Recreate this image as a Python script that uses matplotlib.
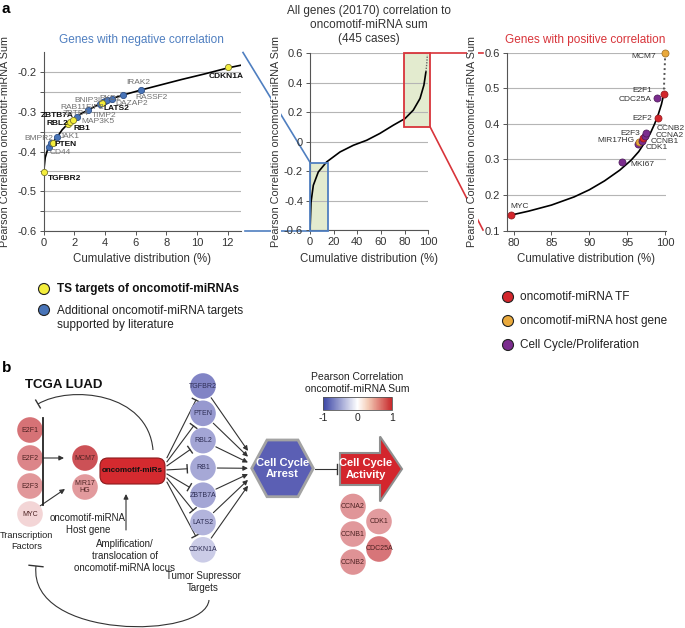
import numpy as np
import matplotlib
matplotlib.use('Agg')
import matplotlib.pyplot as plt
from matplotlib.patches import Circle, Rectangle, Polygon, FancyBboxPatch, PathPatch
from matplotlib.path import Path
from matplotlib.colors import LinearSegmentedColormap, Normalize
import matplotlib.colorbar as mcolorbar

plt.rcParams['font.family'] = ['Liberation Sans', 'DejaVu Sans']
plt.rcParams['axes.unicode_minus'] = False

W, H = 685, 628

# --------------------------- Data: panel a ---------------------------
# genes with negative correlation (left zoom)
neg_genes = ['TGFBR2', 'CD44', 'BMPR2', 'PTEN', 'JAK1', 'RBL2', 'ZBTB7A', 'RB1', 'MAP3K5', 'ZBTB4',
             'RAB11FIP2', 'LATS2', 'BNIP3L', 'TIMP2', 'DAZAP2', 'PKD2', 'RASSF2', 'IRAK2', 'CDKN1A']
neg_x = [0.0, 0.37, 0.50, 0.58, 0.89, 1.56, 1.72, 1.89, 2.19, 2.87,
         3.70, 3.78, 3.89, 4.00, 4.15, 4.43, 5.19, 6.35, 12.0]
neg_y = [-0.450, -0.387, -0.378, -0.377, -0.362, -0.329, -0.324, -0.320, -0.312, -0.295,
         -0.279, -0.277, -0.274, -0.272, -0.270, -0.267, -0.258, -0.245, -0.187]
neg_ts = ['TGFBR2', 'PTEN', 'RBL2', 'ZBTB7A', 'RB1', 'LATS2', 'CDKN1A']

neg_curve_x = [0.0, 0.1, 0.25, 0.4, 0.6, 0.9, 1.2, 1.6, 2.0, 2.5, 3.0, 3.6, 4.3, 5.2, 6.3, 7.5, 9.0, 10.5, 12.0, 13.0]
neg_curve_y = [-0.450, -0.415, -0.395, -0.386, -0.376, -0.362, -0.345, -0.329, -0.316, -0.303, -0.293,
               -0.281, -0.268, -0.257, -0.245, -0.233, -0.218, -0.204, -0.189, -0.181]

# all genes (middle)
all_curve_x = [0, 0.85, 2.8, 7, 14, 25.4, 36.6, 47.9, 59, 70.4, 80.3, 87.3, 93, 96.3, 98]
all_curve_y = [-0.6, -0.41, -0.294, -0.204, -0.136, -0.068, -0.023, 0.011, 0.057, 0.113, 0.158,
               0.215, 0.294, 0.385, 0.475]
all_tail_x = [98, 98.7, 99.2]
all_tail_y = [0.475, 0.53, 0.589]
neg_box = [0, -0.6, 15.5, -0.14]     # x0, y0, x1, y1
pos_box = [79.7, 0.1, 101.4, 0.6]

# genes with positive correlation (right zoom)
pos_genes = ['MYC', 'MKI67', 'CDK1', 'MIR17HG', 'CCNB1', 'E2F3', 'CCNA2', 'CCNB2', 'CDC25A', 'E2F2', 'E2F1', 'MCM7']
pos_x = [79.7, 94.3, 96.4, 96.6, 96.9, 97.1, 97.3, 97.5, 98.9, 99.1, 99.8, 100.0]
pos_y = [0.144, 0.292, 0.343, 0.348, 0.352, 0.360, 0.366, 0.374, 0.474, 0.416, 0.483, 0.600]
pos_type = ['TF', 'CC', 'CC', 'host', 'CC', 'TF', 'CC', 'CC', 'CC', 'TF', 'TF', 'host']

pos_curve_x = [79.7, 82, 85, 88, 90, 92, 94, 95.5, 96.5, 97.3, 98, 98.6, 99.1, 99.5, 99.8]
pos_curve_y = [0.144, 0.155, 0.172, 0.195, 0.215, 0.24, 0.27, 0.298, 0.322, 0.348, 0.372, 0.40, 0.428, 0.455, 0.483]

# --------------------------- Data: panel b ---------------------------
tf_nodes = ['E2F1', 'E2F2', 'E2F3', 'MYC']
host_nodes = ['MCM7', 'MIR17HG']
ts_nodes = ['TGFBR2', 'PTEN', 'RBL2', 'RB1', 'ZBTB7A', 'LATS2', 'CDKN1A']
cc_nodes = ['CCNA2', 'CCNB1', 'CCNB2', 'CDK1', 'CDC25A']
cbar_ticks = [-1, 0, 1]

# --------------------------- Styles / layout ---------------------------
col_ts, col_lit = '#f4ee3c', '#4874b8'
type_colors = {'TF': '#d3262c', 'host': '#e9a93c', 'CC': '#7b2c8e'}
type_edges = {'TF': '#8b1a1e', 'host': '#9a6b20', 'CC': '#4a1a55'}
blue_c, red_c = '#4f7fc0', '#d8343a'
green_fill = '#e3ebcf'

# label offsets in pixels (dx right, dy down)
neg_off = {'CDKN1A': (-18.7, 9.2), 'IRAK2': (-15, -8), 'RASSF2': (11.7, 2.5), 'PKD2': (-12.6, -0.5),
           'DAZAP2': (7.7, 3.3), 'TIMP2': (-13.3, 14.5), 'BNIP3L': (-29.3, -1.3), 'LATS2': (1.7, 5.5),
           'RAB11FIP2': (-40.4, 3.4), 'ZBTB4': (-24.7, 3), 'MAP3K5': (3.7, 5.2), 'RB1': (0.6, 8.3),
           'ZBTB7A': (-29.4, -5.6), 'RBL2': (-20.9, 0.1), 'JAK1': (2.7, 0), 'PTEN': (2.4, 2.2),
           'BMPR2': (-27.4, -4.9), 'CD44': (0.6, 5.9), 'TGFBR2': (4, 7)}
pos_off = {'MYC': (-1, -8.3, 'left'), 'MKI67': (8.3, 1.7, 'left'), 'CDK1': (7.4, 3.8, 'left'),
           'MIR17HG': (-5, -2.4, 'right'), 'CCNB1': (8.6, 0.7, 'left'), 'E2F3': (-3, -5, 'right'),
           'CCNA2': (10.6, -1, 'left'), 'CCNB2': (10.7, -4.2, 'left'), 'CDC25A': (-5, 2.4, 'right'),
           'E2F2': (-6, 0, 'right'), 'E2F1': (-11, -3.7, 'right'), 'MCM7': (-9, 4.3, 'right')}


def px_rect(x0, y0, x1, y1):
    return [x0 / W, 1 - y1 / H, (x1 - x0) / W, (y1 - y0) / H]


fig = plt.figure(figsize=(W / 100, H / 100), dpi=100)
fig.patch.set_facecolor('white')

# background axes in pixel units: connectors, texts and the whole diagram of panel b
ax_bg = fig.add_axes([0, 0, 1, 1], zorder=-1)
ax_bg.set_xlim(0, W)
ax_bg.set_ylim(H, 0)
ax_bg.axis('off')


def style_axes(ax, xlab_y, ylab_x):
    for s in ['top', 'right']:
        ax.spines[s].set_visible(False)
    for s in ['left', 'bottom']:
        ax.spines[s].set_color('#555555')
        ax.spines[s].set_linewidth(0.8)
    ax.tick_params(labelsize=8, labelcolor='#333333', color='#555555', length=3, width=0.7, pad=2)
    ax.yaxis.grid(True, color='#b5b5b5', lw=0.8)
    ax.set_axisbelow(True)
    ax.set_xlabel('Cumulative distribution (%)', fontsize=8.3, color='#333333')
    ax.set_ylabel('Pearson Correlation oncomotif-miRNA Sum', fontsize=7.8, color='#333333',
                  bbox=dict(fc='white', ec='none', pad=0.3))
    ax.xaxis.set_label_coords(0.5, xlab_y)
    ax.yaxis.set_label_coords(ylab_x, 0.5)


# --------------------------- Left: negative correlation ---------------------------
ax1 = fig.add_axes(px_rect(43.7, 52.5, 241, 231))
ax1.set_xlim(0, 12.87)
ax1.set_ylim(-0.6, -0.15)
ax1.set_xticks(np.arange(0, 13, 2))
ax1.set_yticks(np.arange(-0.6, -0.19, 0.05))
ax1.set_yticklabels(['' if round(v * 100) % 10 else f'{v:.1f}' for v in np.arange(-0.6, -0.19, 0.05)])
style_axes(ax1, -0.123, -0.171)
ax1.plot(neg_curve_x, neg_curve_y, color='black', lw=1.2, zorder=2)
for g, x, y in zip(neg_genes, neg_x, neg_y):
    is_ts = g in neg_ts
    ax1.scatter(x, y, s=20, color=col_ts if is_ts else col_lit,
                edgecolor='#7d7a2a' if is_ts else '#2e4f85', lw=0.6, zorder=3 + is_ts, clip_on=False)
    dx, dy = neg_off[g]
    ax1.annotate(g, (x, y), xytext=(dx, -dy), textcoords='offset pixels', fontsize=6,
                 ha='left', va='center', fontweight='bold' if is_ts else 'normal',
                 color='#111111' if is_ts else '#707070', zorder=5, annotation_clip=False)

# --------------------------- Middle: all genes ---------------------------
ax2 = fig.add_axes(px_rect(310, 53.3, 428.3, 230.5))
ax2.set_xlim(0, 100)
ax2.set_ylim(-0.6, 0.6)
ax2.set_xticks(np.arange(0, 101, 20))
ax2.set_yticks(np.arange(-0.6, 0.61, 0.2))
ax2.yaxis.set_major_formatter(plt.FuncFormatter(lambda v, p: f'{v:.1f}' if abs(v) > 1e-9 else '0'))
style_axes(ax2, -0.127, -0.245)
for box, ec in [(neg_box, blue_c), (pos_box, red_c)]:
    ax2.add_patch(Rectangle((box[0], box[1]), box[2] - box[0], box[3] - box[1], fc=green_fill,
                            ec='none', zorder=0.2, clip_on=False))
    ax2.add_patch(Rectangle((box[0], box[1]), box[2] - box[0], box[3] - box[1], fc='none',
                            ec=ec, lw=1.3, zorder=4, clip_on=False))
ax2.plot(all_curve_x, all_curve_y, color='black', lw=1.2, zorder=3)
ax2.plot(all_tail_x, all_tail_y, color='#666666', lw=1.0, ls=(0, (1, 1)), zorder=3)

# --------------------------- Right: positive correlation ---------------------------
ax3 = fig.add_axes(px_rect(506.7, 52.7, 666, 230.7))
ax3.set_xlim(79.1, 100.1)
ax3.set_ylim(0.1, 0.6)
ax3.set_xticks(np.arange(80, 101, 5))
ax3.set_yticks(np.arange(0.1, 0.61, 0.1))
ax3.yaxis.set_major_formatter(plt.FuncFormatter(lambda v, p: f'{v:.1f}'))
style_axes(ax3, -0.125, -0.186)
ax3.plot(pos_curve_x, pos_curve_y, color='black', lw=1.2, zorder=2)
ax3.plot([pos_x[-2], pos_x[-1]], [pos_y[-2], pos_y[-1]], color='#555555', lw=1.4, ls=(0, (1, 1.5)), zorder=2)
for g, x, y, t in zip(pos_genes, pos_x, pos_y, pos_type):
    ax3.scatter(x, y, s=26, color=type_colors[t], edgecolor=type_edges[t], lw=0.5, zorder=3, clip_on=False)
    dx, dy, ha = pos_off[g]
    ax3.annotate(g, (x, y), xytext=(dx, -dy), textcoords='offset pixels', fontsize=6,
                 ha=ha, va='center', color='#333333', zorder=5, annotation_clip=False)

# --------------------------- Panel a texts and connectors ---------------------------
ax_bg.text(2, 9, 'a', fontsize=11, fontweight='bold', va='center')
ax_bg.text(141.7, 39.5, 'Genes with negative correlation', color=blue_c, fontsize=8.5, ha='center', va='center')
ax_bg.text(585.5, 40, 'Genes with positive correlation', color=red_c, fontsize=8.5, ha='center', va='center')
ax_bg.text(369, 25, 'All genes (20170) correlation to\noncomotif-miRNA sum\n(445 cases)', fontsize=8.5,
           color='#333333', ha='center', va='center', linespacing=1.2)

ax_bg.plot([243, 310], [52.5, 162.3], color=blue_c, lw=1.2)
ax_bg.plot([245, 310], [231, 231], color=blue_c, lw=1.2)
ax_bg.plot([430, 483], [53.3, 53.3], color=red_c, lw=1.2)
ax_bg.plot([430, 483], [126.7, 230], color=red_c, lw=1.2)

# legends
ax_bg.add_patch(Circle((44, 289), 5.5, fc=col_ts, ec='#222222', lw=0.8))
ax_bg.text(57, 289, 'TS targets of oncomotif-miRNAs', fontsize=8.5, fontweight='bold', va='center', color='#111111')
ax_bg.add_patch(Circle((44, 310), 5.5, fc=col_lit, ec='#222222', lw=0.8))
ax_bg.text(57, 318, 'Additional oncomotif-miRNA targets\nsupported by literature', fontsize=8.5, va='center',
           color='#222222', linespacing=1.25)
for i, (t, lab) in enumerate([('TF', 'oncomotif-miRNA TF'), ('host', 'oncomotif-miRNA host gene'),
                              ('CC', 'Cell Cycle/Proliferation')]):
    y = 297 + i * 24
    ax_bg.add_patch(Circle((508, y), 5.5, fc=type_colors[t], ec='#222222', lw=0.8))
    ax_bg.text(520, y, lab, fontsize=8.5, va='center', color='#222222')

# --------------------------- Panel b: diagram ---------------------------
corr_cmap = LinearSegmentedColormap.from_list('corr', ['#3d41a6', '#ffffff', '#c4343a'])
bar_cmap = LinearSegmentedColormap.from_list('bar', [(0, '#3a45a5'), (0.5, '#ffffff'),
                                                     (0.65, '#f4cdb8'), (1, '#c7282b')])
node_norm = Normalize(-0.7, 0.7)
gene_r = dict(zip(neg_genes, neg_y)) | dict(zip(pos_genes, pos_y))

R = 12.8
node_pos = {'E2F1': (30, 430), 'E2F2': (30, 458), 'E2F3': (30, 486), 'MYC': (30, 514),
            'MCM7': (85, 458), 'MIR17HG': (85, 487),
            'CCNA2': (353, 506.5), 'CCNB1': (353, 534), 'CCNB2': (353, 562), 'CDK1': (379, 521.5),
            'CDC25A': (379, 549)}
for i, g in enumerate(ts_nodes):
    node_pos[g] = (203, 386 + i * 27.3)
node_text = {'MIR17HG': 'MIR17\nHG'}


def draw_node(g):
    x, y = node_pos[g]
    r = gene_r[g]
    ax_bg.add_patch(Circle((x, y), R, fc=corr_cmap(node_norm(r)), ec='none', zorder=2))
    ax_bg.text(x, y, node_text.get(g, g), fontsize=5, ha='center', va='center', zorder=3,
               color='#2e2e55' if r < 0 else '#4d2222', linespacing=1.1)


for g in tf_nodes + host_nodes + ts_nodes + cc_nodes:
    draw_node(g)


def activate(p0, p1):
    ax_bg.annotate('', xy=p1, xytext=p0, zorder=1,
                   arrowprops=dict(arrowstyle='-|>', color='#333333', lw=0.8, mutation_scale=7,
                                   shrinkA=0, shrinkB=0))


def tbar(p_end, direction, bar=8, lw=1.0):
    d = np.asarray(direction, float)
    d = d / np.hypot(*d)
    n = np.array([-d[1], d[0]]) * bar / 2
    ax_bg.plot([p_end[0] - n[0], p_end[0] + n[0]], [p_end[1] - n[1], p_end[1] + n[1]],
               color='#333333', lw=lw, zorder=1)


def inhibit(p0, p1, bar=8):
    ax_bg.plot([p0[0], p1[0]], [p0[1], p1[1]], color='#333333', lw=0.8, zorder=1)
    tbar(p1, (p1[0] - p0[0], p1[1] - p0[1]), bar)


def curve_inhibit(pts, bar=9):
    verts = [pts[0], pts[1], pts[2], pts[3]]
    ax_bg.add_patch(PathPatch(Path(verts, [Path.MOVETO, Path.CURVE4, Path.CURVE4, Path.CURVE4]),
                              fc='none', ec='#333333', lw=0.8, zorder=1))
    tbar(pts[3], (pts[3][0] - pts[2][0], pts[3][1] - pts[2][1]), bar)


# transcription factors -> host gene
ax_bg.plot([43.3, 43.3], [418, 505], color='#222222', lw=1.3)
activate((43.3, 458), (64, 458))
activate((40, 506), (65, 489))

# oncomotif-miRs box
ax_bg.add_patch(FancyBboxPatch((100, 458), 65, 26, boxstyle='round,pad=0,rounding_size=8',
                               fc='#d42a2f', ec='#8b1a1c', lw=0.8, zorder=2))
ax_bg.text(132.5, 471, 'oncomotif-miRs', fontsize=5.8, fontweight='bold', ha='center', va='center',
           color='#111111', zorder=3)
activate((126, 530), (126, 494))

# inhibition of tumour suppressors
for g in ts_nodes:
    cx, cy = node_pos[g]
    start = np.array([167, 470 + (cy - 468.5) * 0.15])
    u = start - np.array([cx, cy])
    u = u / np.hypot(*u)
    end = np.array([cx, cy]) + u * (R + 3)
    inhibit(start, end, bar=8)

# tumour suppressors -> cell cycle arrest
for i, g in enumerate(ts_nodes):
    cx, cy = node_pos[g]
    tgt = np.array([248, 468.3 + (i - 3) * 5.8])
    u = tgt - np.array([cx, cy])
    u = u / np.hypot(*u)
    activate(np.array([cx, cy]) + u * (R + 1.5), tgt)

# hexagon "Cell Cycle Arrest"
hexv = [(251.7, 468.3), (267, 440), (298, 440), (313.3, 468.3), (298, 496.7), (267, 496.7)]
ax_bg.add_patch(Polygon(hexv, closed=True, fc='#5b5fb4', ec='#a3a3a3', lw=2, zorder=2))
ax_bg.text(282.5, 468.3, 'Cell Cycle\nArrest', fontsize=8, fontweight='bold', color='white',
           ha='center', va='center', zorder=3, linespacing=1.2)
inhibit((315, 469), (337, 469), bar=10)

# block arrow "Cell Cycle Activity"
arrv = [(340, 453), (380, 453), (380, 436.5), (402, 469), (380, 501.5), (380, 485), (340, 485)]
ax_bg.add_patch(Polygon(arrv, closed=True, fc='#d3262d', ec='#8f8f8f', lw=1.5, zorder=2))
ax_bg.text(366, 469, 'Cell Cycle\nActivity', fontsize=8, fontweight='bold', color='white',
           ha='center', va='center', zorder=3, linespacing=1.2)

# feedback loops
curve_inhibit([(153, 450), (148, 392), (70, 385), (38, 404)], bar=9)
curve_inhibit([(209, 600), (205, 640), (28, 640), (36, 566)], bar=14)

# panel b texts
ax_bg.text(2, 368, 'b', fontsize=11, fontweight='bold', va='center')
ax_bg.text(25, 385, 'TCGA LUAD', fontsize=9.5, fontweight='bold', va='center', color='#111111')
ax_bg.text(27, 541, 'Transcription\nFactors', fontsize=6.7, ha='center', va='center', color='#222222',
           linespacing=1.3)
ax_bg.text(88, 524, 'oncomotif-miRNA\nHost gene', fontsize=7, ha='center', va='center', color='#222222',
           linespacing=1.3)
ax_bg.text(125, 556, 'Amplification/\ntranslocation of\noncomotif-miRNA locus', fontsize=7,
           ha='center', va='center', color='#222222', linespacing=1.25)
ax_bg.text(203, 582, 'Tumor Supressor\nTargets', fontsize=7, ha='center', va='center', color='#222222',
           linespacing=1.3)

# colour bar
ax_bg.text(357, 383, 'Pearson Correlation\noncomotif-miRNA Sum', fontsize=7.5, ha='center', va='center',
           color='#222222', linespacing=1.2)
cax = fig.add_axes(px_rect(323, 397, 392, 410))
cb = mcolorbar.ColorbarBase(cax, cmap=bar_cmap, norm=Normalize(-1, 1), orientation='horizontal')
cb.set_ticks(cbar_ticks)
cb.ax.tick_params(length=0, labelsize=7.5, pad=2, labelcolor='#222222')
cb.outline.set_linewidth(0.6)
cb.outline.set_edgecolor('#555555')

fig.savefig('out.png', dpi=100, facecolor='white')
